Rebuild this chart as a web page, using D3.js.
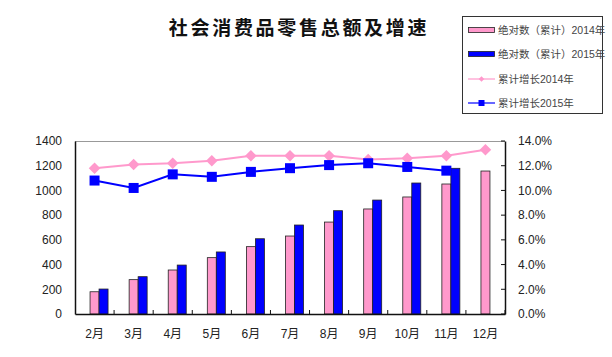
<!DOCTYPE html>
<html><head><meta charset="utf-8">
<script src="https://cdn.jsdelivr.net/npm/d3@7"></script>
<style>
html,body{margin:0;padding:0;background:#fff;}
svg{display:block;}
text{font-family:Arial,"Liberation Sans","Noto Sans CJK SC",sans-serif;}
</style></head>
<body>
<svg id="chart" width="612" height="357"></svg>
<script>
const months = ["2月","3月","4月","5月","6月","7月","8月","9月","10月","11月","12月"];
const abs2014 = [180,278,356,456,545,631,744,850,947,1052,1157];
const abs2015 = [202,302,396,502,609,720,836,922,1060,1179,null];
const growth2014 = [11.8,12.1,12.2,12.4,12.8,12.8,12.8,12.5,12.6,12.8,13.3];
const growth2015 = [10.8,10.2,11.3,11.1,11.5,11.8,12.05,12.2,11.9,11.6,null];
const leftTicks = [0,200,400,600,800,1000,1200,1400];
const rightTicks = [0,2,4,6,8,10,12,14];
const title = "社会消费品零售总额及增速";
const legendLabels = ["绝对数（累计）2014年","绝对数（累计）2015年","累计增长2014年","累计增长2015年"];

const pink = "#ff99cc", blue = "#0000ff";
const svg = d3.select("#chart");
const L = 75, R = 505, T = 141, B = 314;

const x = d3.scaleBand().domain(months).range([L, R]).padding(0);
const sub = d3.scaleBand().domain(["gap","y2014","y2015"]).range([0, 27]).padding(0);
const yL = d3.scaleLinear().domain([0,1400]).range([B, T]);
const yR = d3.scaleLinear().domain([0,14]).range([B, T]);
const cx = m => x(m) + x.bandwidth()/2;

// title
svg.append("text").attr("x", 299).attr("y", 35).attr("text-anchor","middle")
  .style("font-family","'Noto Sans CJK SC',sans-serif").style("font-weight","bold")
  .style("font-size","19px").style("letter-spacing","2.7px").attr("fill","#111").text(title);

// top border
svg.append("line").attr("x1",L).attr("x2",R).attr("y1",T+0.5).attr("y2",T+0.5).attr("stroke","#999").attr("stroke-width",1);

// bars
const barData = [];
months.forEach((m,i)=>{
  barData.push({m, key:"y2014", v:abs2014[i], c:pink});
  if (abs2015[i] != null) barData.push({m, key:"y2015", v:abs2015[i], c:blue});
});
svg.append("g").selectAll("rect").data(barData).join("rect")
  .attr("x", d => cx(d.m) - 13.5 + sub(d.key))
  .attr("width", sub.bandwidth())
  .attr("y", d => yL(d.v))
  .attr("height", d => B - yL(d.v))
  .attr("fill", d => d.c).attr("stroke","#222").attr("stroke-width",0.8);

// left axis
const gL = svg.append("g").attr("transform",`translate(${L},0)`)
  .call(d3.axisLeft(yL).tickValues(leftTicks).tickSize(0).tickPadding(13).tickFormat(d3.format("d")));
gL.select(".domain").attr("stroke","#111").attr("stroke-width",1.5);
gL.selectAll("text").style("font-size","12px").attr("fill","#222");

// right axis
const gR = svg.append("g").attr("transform",`translate(${R},0)`)
  .call(d3.axisRight(yR).tickValues(rightTicks).tickSize(0).tickPadding(13).tickFormat(d => d.toFixed(1)+"%"));
gR.select(".domain").attr("stroke","#111").attr("stroke-width",1.5);
gR.selectAll("text").style("font-size","12px").attr("fill","#222");
svg.append("g").selectAll("line").data(rightTicks).join("line")
  .attr("x1",R-4).attr("x2",R).attr("y1",d=>yR(d)).attr("y2",d=>yR(d)).attr("stroke","#111");

// bottom axis
const gB = svg.append("g").attr("transform",`translate(0,${B})`)
  .call(d3.axisBottom(x).tickSize(0).tickPadding(15));
gB.select(".domain").attr("stroke","#111").attr("stroke-width",1.5);
gB.selectAll("text").style("font-size","12px").attr("fill","#222");
svg.append("g").selectAll("line").data(months).join("line")
  .attr("x1", d => x(d) + x.bandwidth()).attr("x2", d => x(d) + x.bandwidth())
  .attr("y1",B-4).attr("y2",B).attr("stroke","#111");

// lines
const line = d3.line().defined(d => d.v != null).x(d => cx(d.m)).y(d => yR(d.v));
const g14 = months.map((m,i)=>({m, v:growth2014[i]}));
const g15 = months.map((m,i)=>({m, v:growth2015[i]}));
svg.append("path").datum(g14).attr("d", line).attr("fill","none").attr("stroke",pink).attr("stroke-width",2);
svg.append("g").selectAll("path").data(g14).join("path")
  .attr("transform", d => `translate(${cx(d.m)},${yR(d.v)})`)
  .attr("d", d3.symbol(d3.symbolDiamond2, 85)).attr("fill",pink);
svg.append("path").datum(g15).attr("d", line).attr("fill","none").attr("stroke",blue).attr("stroke-width",2);
svg.append("g").selectAll("rect").data(g15.filter(d=>d.v!=null)).join("rect")
  .attr("x", d => cx(d.m)-5).attr("y", d => yR(d.v)-5).attr("width",10).attr("height",10).attr("fill",blue);

// legend
svg.append("rect").attr("x",462.5).attr("y",16.5).attr("width",140).attr("height",97)
  .attr("fill","#fff").attr("stroke","#333").attr("stroke-width",1);
const ly = [30, 54, 79, 103];
const lg = svg.append("g");
legendLabels.forEach((t,i)=>{
  const y = ly[i];
  if (i < 2) {
    lg.append("rect").attr("x",468.5).attr("y",y-2.5).attr("width",26).attr("height",5)
      .attr("fill", i===0?pink:blue).attr("stroke","#222").attr("stroke-width",0.8);
  } else {
    const c = i===2?pink:blue;
    lg.append("line").attr("x1",468).attr("x2",495).attr("y1",y).attr("y2",y).attr("stroke",c).attr("stroke-width",1.2);
    if (i===2) lg.append("path").attr("transform",`translate(481.5,${y})`).attr("d",d3.symbol(d3.symbolDiamond2,20)).attr("fill",c);
    else lg.append("rect").attr("x",478.5).attr("y",y-3).attr("width",6).attr("height",6).attr("fill",c);
  }
  lg.append("text").attr("x",498).attr("y",y).attr("dy","0.35em").style("font-size","10.5px")
    .attr("fill","#444").text(t);
});
</script>
</body></html>
